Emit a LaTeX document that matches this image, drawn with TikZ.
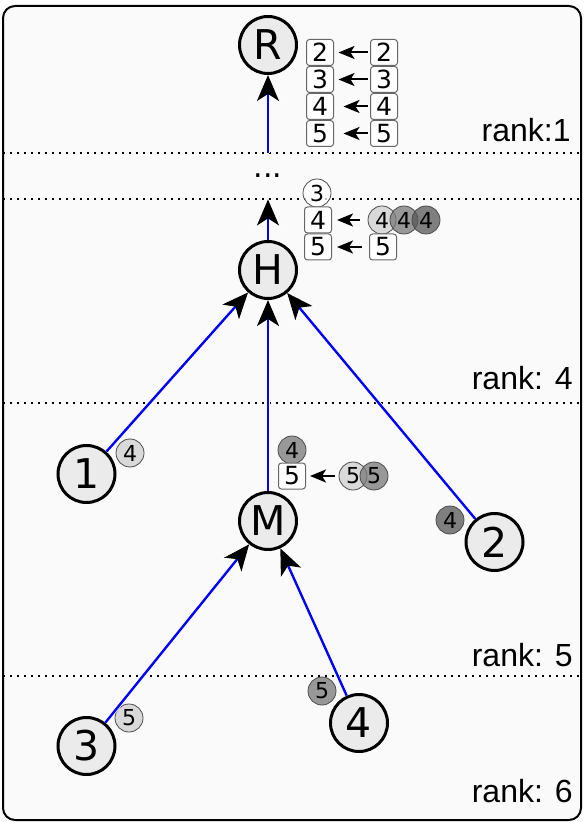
\documentclass[tikz,border=0pt]{standalone}
\usepackage{fontspec}
\setmainfont{DejaVu Sans}
\newfontfamily\rankfont{Liberation Sans}
\usetikzlibrary{arrows.meta}
\definecolor{paper}{HTML}{FAFAFA}
\definecolor{nodegray}{HTML}{EBEBEB}
\definecolor{tagA}{HTML}{CFCFCF}
\definecolor{tagB}{HTML}{787878}
\definecolor{tagC}{HTML}{565656}

\tikzset{
  vertex/.style={circle, draw, line width=1.5pt, fill=nodegray, minimum size=28.5pt, inner sep=0pt, font=\fontsize{20.5}{24}\selectfont},
  tag/.style={circle, draw=black!70, line width=0.4pt, minimum size=14pt, inner sep=0pt, fill opacity=0.75, text opacity=1, font=\fontsize{11}{12}\selectfont},
  slot/.style={rectangle, draw=black!60, line width=0.5pt, rounded corners=1.5pt, fill=white, minimum width=13.5pt, minimum height=13pt, inner sep=0pt, font=\fontsize{12.5}{14}\selectfont},
  link/.style={blue, line width=1.2pt, -{Stealth[length=13pt, width=11pt, inset=3.5pt, black]},
    preaction={draw=white, line width=2pt, -{Stealth[length=14.5pt, width=13pt, inset=4pt, white]}}},
  pull/.style={line width=1pt, -{Stealth[length=8pt, width=6.5pt, inset=2pt]}},
  ranklabel/.style={anchor=base east, inner sep=0pt, font=\rankfont\fontsize{16}{18}\selectfont},
  rankline/.style={line width=1pt, dash pattern=on 1pt off 2.5pt},
}

\begin{document}
\begin{tikzpicture}[x=0.5pt, y=-0.5pt]
\useasboundingbox (0,0) rectangle (584,822);
\draw[line width=1pt, fill=paper, rounded corners=6pt] (3,6) rectangle (581,820);

% rank borders
\draw[rankline] (3,153) -- (581,153);
\draw[rankline] (3,199) -- (581,199);
\draw[rankline] (3,403) -- (581,403);
\draw[rankline] (3,676) -- (581,676);

\node[ranklabel] (k1) at (571,142) {rank:1};
\node[ranklabel] (k4) at (573,390) {rank: 4};
\node[ranklabel] (k5) at (573,666) {rank: 5};
\node[ranklabel] (k6) at (573,802) {rank: 6};

% tree
\node[vertex] (R) at (268,45) {R};
\node[inner sep=0pt, minimum height=23pt, font=\fontsize{15}{17}\selectfont] (dots) at (268,176) {...};
\node[vertex] (H) at (268,270) {H};
\node[vertex] (n1) at (86.5,474) {1};
\node[vertex] (M) at (268,521) {M};
\node[vertex] (n2) at (494.5,542) {2};
\node[vertex] (n3) at (86.5,746) {3};
\node[vertex] (n4) at (359,723) {4};

\node[tag, fill=tagA] (t1) at (130,453) {4};
\node[tag, fill=tagC] (t2) at (450,520) {4};
\node[tag, fill=tagA] (t3) at (129,718) {5};
\node[tag, fill=tagB] (t4) at (322,691) {5};

% list at R
\node[slot] (ra2) at (320,52.5) {2};
\node[slot] (ra3) at (320,79.5) {3};
\node[slot] (ra4) at (320,106.5) {4};
\node[slot] (ra5) at (320,133.5) {5};
\node[slot] (rb2) at (384,52.5) {2};
\node[slot] (rb3) at (384,79.5) {3};
\node[slot] (rb4) at (384,106.5) {4};
\node[slot] (rb5) at (384,133.5) {5};
\draw[pull, shorten >=2.25pt, shorten <=1.25pt] (rb2) -- (ra2);
\draw[pull, shorten >=2.25pt, shorten <=1.25pt] (rb3) -- (ra3);
\draw[pull, shorten >=4.75pt, shorten <=1.25pt] (rb4) -- (ra4);
\draw[pull, shorten >=4.75pt, shorten <=1.25pt] (rb5) -- (ra5);

% list at H
\node[tag, fill=white] (h3) at (317,193) {3};
\node[slot] (h4) at (318,220) {4};
\node[slot] (h5) at (318,247) {5};
\node[tag, fill=tagA] (h4a) at (382,220) {4};
\node[tag, fill=tagB] (h4b) at (404,220) {4};
\node[tag, fill=tagC] (h4c) at (426,220) {4};
\node[slot] (h5a) at (383,247) {5};
\draw[pull, shorten >=2.5pt, shorten <=4pt] (h4a) -- (h4);
\draw[pull, shorten >=2.5pt, shorten <=3.5pt] (h5a) -- (h5);

% list at M
\node[tag, fill=tagB] (m4) at (292,450) {4};
\node[slot] (m5) at (292,476) {5};
\node[tag, fill=tagA] (m5a) at (353,476) {5};
\node[tag, fill=tagB] (m5b) at (374,476) {5};
\draw[pull, shorten >=2pt, shorten <=2pt] (m5a) -- (m5);

\draw[link] (n1) -- (H);
\draw[link] (M) -- (H);
\draw[link] (n2) -- (H);
\draw[link] (n3) -- (M);
\draw[link] (n4) -- (M);
\draw[link] (H) -- (dots.south);
\draw[link] (dots.north) -- (R);
\end{tikzpicture}
\end{document}
